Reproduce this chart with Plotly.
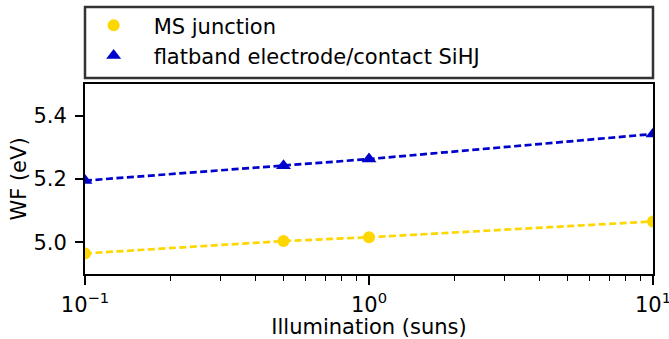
import plotly.graph_objects as go

# Illumination levels (suns) and work functions (eV)
illumination = [0.1, 0.5, 1.0, 10.0]
wf_ms_junction = [4.965, 5.004, 5.016, 5.066]
wf_flatband = [5.195, 5.242, 5.263, 5.342]

series_names = ["MS junction", "flatband electrode/contact SiHJ"]
x_tick_vals = [0.1, 1, 10]
x_tick_text = ["10<sup>\u22121</sup>", "10<sup>0</sup>", "10<sup>1</sup>"]
y_tick_vals = [5.0, 5.2, 5.4]
minor_x = [v * m for v in (0.1, 1) for m in range(2, 10)]

GOLD = "#FFD700"
BLUE = "#0000CD"
FONT = "DejaVu Sans, sans-serif"
FS = 21

fig = go.Figure()

# dashed trend lines through each series
for ys, col in ((wf_ms_junction, GOLD), (wf_flatband, BLUE)):
    fig.add_trace(go.Scatter(
        x=illumination, y=ys, mode="lines", showlegend=False,
        line=dict(color=col, width=2.7, dash="7px,3.5px"), hoverinfo="skip",
    ))

fig.add_trace(go.Scatter(
    x=illumination, y=wf_ms_junction, mode="markers", name=series_names[0],
    marker=dict(symbol="circle", size=12, color=GOLD),
))
fig.add_trace(go.Scatter(
    x=illumination, y=wf_flatband, mode="markers", name=series_names[1],
    marker=dict(symbol="triangle-up", size=13, color=BLUE),
))

# legend frame spanning the width of the axes
fig.add_shape(type="rect", xref="paper", yref="paper",
              x0=0, x1=1, y0=1.032, y1=1.405,
              line=dict(color="#333333", width=2.5), fillcolor="white", layer="below")

fig.update_layout(
    width=669, height=339,
    margin=dict(l=85, r=16, t=84, b=65, autoexpand=False),
    paper_bgcolor="white", plot_bgcolor="white",
    font=dict(family=FONT, size=FS, color="black"),
    showlegend=True,
    legend=dict(
        x=-0.02, y=1.415, xanchor="left", yanchor="top",
        bgcolor="rgba(0,0,0,0)", borderwidth=0,
        font=dict(family=FONT, size=FS), itemwidth=70,
        tracegroupgap=0,
    ),
    xaxis=dict(
        type="log", range=[-1, 1], automargin=False,
        tickmode="array", tickvals=x_tick_vals, ticktext=x_tick_text,
        ticklabeloverflow="allow", ticklabelstandoff=2,
        ticks="outside", ticklen=9, tickwidth=1.5, tickcolor="black",
        minor=dict(tickmode="array", tickvals=minor_x, ticks="outside",
                   ticklen=5, tickwidth=1.2, tickcolor="black", showgrid=False),
        showline=True, linecolor="black", linewidth=2, mirror=True,
        showgrid=False, zeroline=False,
        title=dict(text="Illumination (suns)", standoff=1, font=dict(size=FS)),
    ),
    yaxis=dict(
        range=[4.9, 5.5], automargin=False,
        tickmode="array", tickvals=y_tick_vals, ticktext=["5.0", "5.2", "5.4"],
        ticklabelstandoff=4,
        ticks="outside", ticklen=8, tickwidth=1.5, tickcolor="black",
        showline=True, linecolor="black", linewidth=2, mirror=True,
        showgrid=False, zeroline=False,
        title=dict(text="WF (eV)", standoff=1, font=dict(size=FS)),
    ),
)

fig.write_html("out.html")
